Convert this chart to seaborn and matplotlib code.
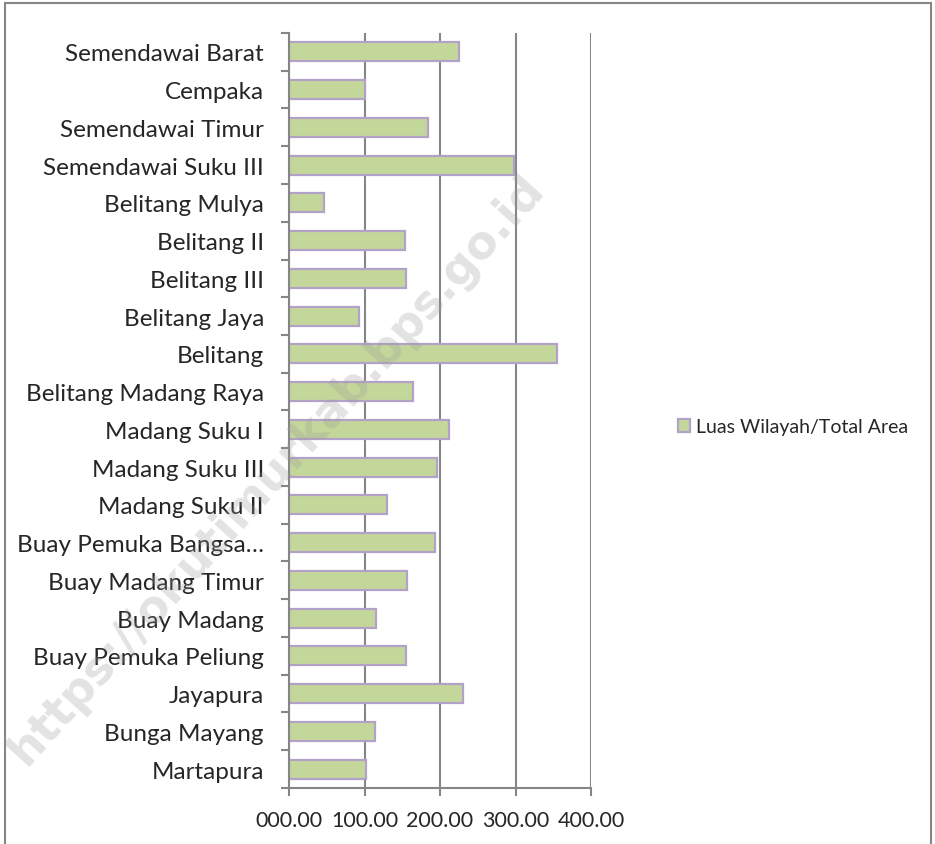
import matplotlib
matplotlib.use('Agg')

import matplotlib.pyplot as plt
import seaborn as sns
import pandas as pd
import numpy as np
from matplotlib.patches import Rectangle

# Luas wilayah per kecamatan (km2)
kecamatan = [
    "Semendawai Barat", "Cempaka", "Semendawai Timur", "Semendawai Suku III",
    "Belitang Mulya", "Belitang II", "Belitang III", "Belitang Jaya", "Belitang",
    "Belitang Madang Raya", "Madang Suku I", "Madang Suku III", "Madang Suku II",
    "Buay Pemuka Bangsa\u2026", "Buay Madang Timur", "Buay Madang",
    "Buay Pemuka Peliung", "Jayapura", "Bunga Mayang", "Martapura",
]
luas = [225.5, 101.0, 183.5, 298.5, 46.5, 154.0, 154.5, 92.5, 355.0, 164.0,
        212.0, 195.5, 129.5, 193.0, 156.0, 115.5, 154.5, 230.5, 114.5, 102.5]
x_ticks = [0, 100, 200, 300, 400]
x_labels = ["000.00", "100.00", "200.00", "300.00", "400.00"]
series_name = "Luas Wilayah/Total Area"

df = pd.DataFrame({"Kecamatan": kecamatan, "Luas": luas})

sns.set_style("white")
plt.rcParams['font.family'] = ['Lato', 'DejaVu Sans']

grey = "#868686"
fig = plt.figure(figsize=(9.35, 8.45), dpi=100)
W, H = 935, 845
ax = fig.add_axes([289 / W, 1 - 789 / H, (591 - 289) / W, (789 - 34) / H])

sns.barplot(data=df, y="Kecamatan", x="Luas", color="#c4d79b",
            edgecolor="#b3a2c7", linewidth=1.6, width=0.5, ax=ax,
            saturation=1, label=series_name, zorder=3)

ax.set_xlim(0, 400)
ax.set_ylim(len(kecamatan) - 0.5, -0.5)
ax.set_xticks(x_ticks)
ax.set_xticklabels(x_labels, fontsize=15.5)
ax.set_xlabel("")
ax.set_ylabel("")
ax.tick_params(axis="y", which="major", length=0, pad=18, labelsize=17.5)
ax.set_yticks(np.arange(-0.5, len(kecamatan)), minor=True)
ax.tick_params(axis="y", which="minor", length=6, width=1.5, color=grey,
               direction="out", left=True)
ax.tick_params(axis="x", length=6, width=1.5, color=grey, direction="out",
               bottom=True, pad=10)

ax.xaxis.grid(True, color=grey, linewidth=1.5, zorder=1)
ax.set_axisbelow(True)
for s in ["top", "right"]:
    ax.spines[s].set_visible(False)
for s in ["left", "bottom"]:
    ax.spines[s].set_color(grey)
    ax.spines[s].set_linewidth(1.5)
    ax.spines[s].set_zorder(4)

ax.legend(loc="center left", bbox_to_anchor=(660 / W, 1 - 428 / H),
          bbox_transform=fig.transFigure, frameon=False, fontsize=14,
          handlelength=0.65, handleheight=0.65, handletextpad=0.3)

# watermark
fig.text(276 / W, 1 - 470 / H, "https://okutimurkab.bps.go.id",
         rotation=48, ha="center", va="center", fontsize=33,
         fontweight="bold", color="#9a9a9a", alpha=0.28,
         family=["DejaVu Sans"], zorder=10)

# chart border
fig.add_artist(Rectangle((5 / W, -0.01), (931 - 5) / W, 1 - 4 / H + 0.01,
                         transform=fig.transFigure, fill=False,
                         edgecolor=grey, linewidth=1.5))

fig.savefig("out.png", dpi=100)
